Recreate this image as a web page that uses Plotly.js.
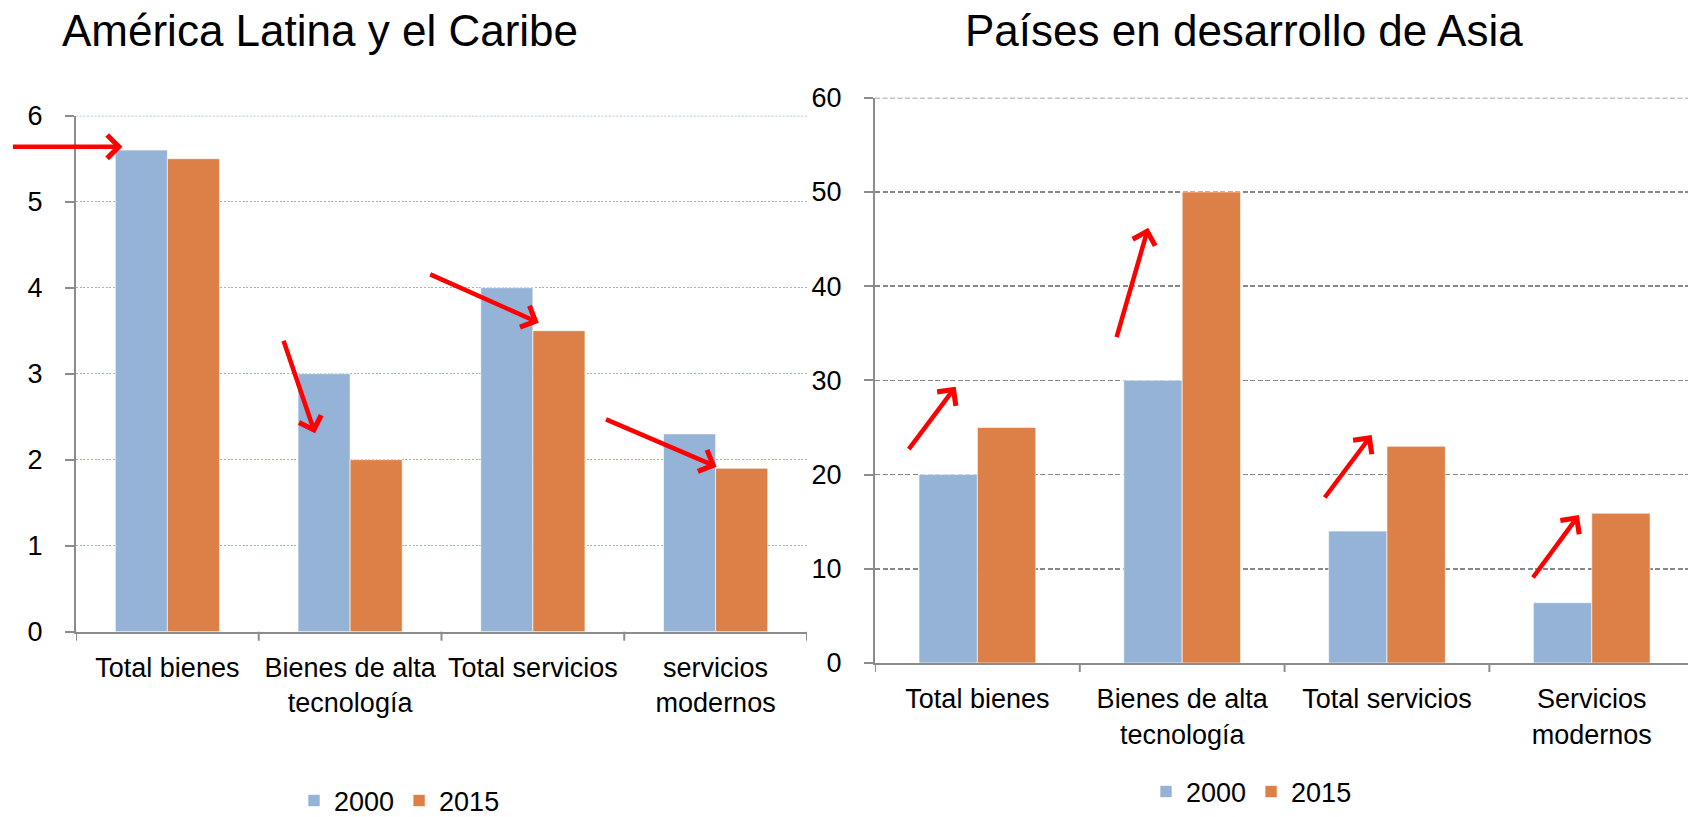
<!DOCTYPE html>
<html>
<head>
<meta charset="utf-8">
<script src="https://cdn.plot.ly/plotly-3.0.1.min.js"></script>
<style>html,body{margin:0;padding:0;background:#fff;}#chart{width:1688px;height:817px;}</style>
</head>
<body>
<div id="chart"></div>
<script>
const years = ["2000", "2015"];
const categoriesLeft = ["Total bienes", "Bienes de alta<br>tecnología", "Total servicios", "servicios<br>modernos"];
const categoriesRight = ["Total bienes", "Bienes de alta<br>tecnología", "Total servicios", "Servicios<br>modernos"];
const left2000 = [5.6, 3.0, 4.0, 2.3];
const left2015 = [5.5, 2.0, 3.5, 1.9];
const right2000 = [20, 30, 14, 6.4];
const right2015 = [25, 50, 23, 15.9];
const leftMax = 6;
const rightMax = 60;
const titleLeft = "América Latina y el Caribe";
const titleRight = "Países en desarrollo de Asia";

const FONT = "Liberation Sans, Arial, sans-serif";
const BLUE = "#95B3D7";
const ORANGE = "#DD8047";
const AXIS = "#8C8C8C";
const GRID_L = "#95B3D7", DASH_L = "2px,1.7px";
const GRID_R = "#888888", DASH_R = "5px,2.5px";

const idx = [0, 1, 2, 3];
function bar(y, name, color, xa, ya, lg) {
  return {
    type: "bar", x: idx, y: y, name: name, xaxis: xa, yaxis: ya, legend: lg,
    marker: {color: color, line: {color: "rgba(255,255,255,0.6)", width: 1}},
    hoverinfo: "skip"
  };
}

const data = [
  bar(left2000, years[0], BLUE, "x", "y", "legend"),
  bar(left2015, years[1], ORANGE, "x", "y", "legend"),
  bar(right2000, years[0], BLUE, "x2", "y2", "legend2"),
  bar(right2015, years[1], ORANGE, "x2", "y2", "legend2")
];

const tickFont = {family: FONT, size: 27, color: "#000"};

function xaxis(domain, anchor, range, labels) {
  return {
    domain: domain, anchor: anchor, range: range, type: "linear",
    tickmode: "array", tickvals: idx, ticktext: labels,
    showgrid: false, zeroline: false,
    showline: true, linecolor: AXIS, linewidth: 2,
    ticks: "", tickfont: tickFont, ticklabelstandoff: 11, fixedrange: true
  };
}
function yaxis(domain, anchor, range, dtick, gcolor, gdash) {
  return {
    domain: domain, anchor: anchor, range: range, dtick: dtick, tick0: 0,
    showgrid: true, gridcolor: gcolor, gridwidth: 1.5, griddash: gdash,
    zeroline: false, showline: true, linecolor: AXIS, linewidth: 2,
    ticks: "outside", ticklen: 9, tickwidth: 2, tickcolor: AXIS,
    tickfont: tickFont, ticklabelstandoff: 17, fixedrange: true
  };
}

const shapes = [
  // top gridlines (at range max, which plotly omits)
  {type: "line", xref: "x domain", yref: "y", x0: 0, x1: 1, y0: leftMax, y1: leftMax,
   line: {color: GRID_L, width: 1.5, dash: DASH_L}, layer: "below"},
  {type: "line", xref: "x2 domain", yref: "y2", x0: 0, x1: 1, y0: rightMax, y1: rightMax,
   line: {color: GRID_R, width: 1.5, dash: DASH_R}, layer: "below"}
];
for (let i = 0; i <= 4; i++) {
  shapes.push({type: "line", xref: "x", yref: "y domain", ysizemode: "pixel", yanchor: 0,
    x0: i - 0.5, x1: i - 0.5, y0: 0, y1: -9, line: {color: AXIS, width: 2}});
}
for (let i = 0; i <= 3; i++) {
  shapes.push({type: "line", xref: "x2", yref: "y2 domain", ysizemode: "pixel", yanchor: 0,
    x0: i - 0.5, x1: i - 0.5, y0: 0, y1: -9, line: {color: AXIS, width: 2}});
}

function arrow(xref, yref, x, y, ax, ay) {
  return {xref: xref, yref: yref, x: x, y: y, ax: ax, ay: ay, text: "",
    showarrow: true, arrowhead: 4, arrowsize: 1, arrowwidth: 4.5, arrowcolor: "#FF0000", standoff: 0};
}

const annotations = [
  {xref: "paper", yref: "paper", x: 320 / 1688, y: 1 - 31 / 817, xanchor: "center", yanchor: "middle",
   text: titleLeft, showarrow: false, font: {family: FONT, size: 44, color: "#000"}},
  {xref: "paper", yref: "paper", x: 1244 / 1688, y: 1 - 31 / 817, xanchor: "center", yanchor: "middle",
   text: titleRight, showarrow: false, font: {family: FONT, size: 44, color: "#000"}},
  arrow("x", "y", -0.246, 5.64, -111, 0),
  arrow("x", "y", 0.808, 2.307, -32, -94),
  arrow("x", "y", 2.032, 3.593, -110, -49),
  arrow("x", "y", 3.005, 1.919, -112, -48),
  arrow("x2", "y2", -0.106, 29.33, -48, 64),
  arrow("x2", "y2", 0.834, 46.2, -32, 111),
  arrow("x2", "y2", 1.925, 24.2, -48, 64),
  arrow("x2", "y2", 2.937, 15.71, -47, 64)
];

const layout = {
  width: 1688, height: 817,
  margin: {l: 0, r: 0, t: 0, b: 0, pad: 0, autoexpand: false},
  paper_bgcolor: "#fff", plot_bgcolor: "#fff",
  barmode: "group", bargap: 0.43, bargroupgap: 0,
  font: {family: FONT, color: "#000"},
  xaxis: xaxis([76 / 1688, 807 / 1688], "y", [-0.5, 3.5], categoriesLeft),
  yaxis: yaxis([1 - 631.7 / 817, 1 - 115.7 / 817], "x", [0, leftMax], 1, GRID_L, DASH_L),
  xaxis2: xaxis([875 / 1688, 1], "y2", [-0.5, 3.47], categoriesRight),
  yaxis2: yaxis([1 - 663 / 817, 1 - 97.7 / 817], "x2", [0, rightMax], 10, GRID_R, DASH_R),
  legend: {orientation: "h", x: 294 / 1688, y: 1 - 801 / 817, xanchor: "left", yanchor: "middle",
    font: {family: FONT, size: 27, color: "#000"}, bgcolor: "rgba(0,0,0,0)", itemclick: false},
  legend2: {orientation: "h", x: 1146 / 1688, y: 1 - 792 / 817, xanchor: "left", yanchor: "middle",
    font: {family: FONT, size: 27, color: "#000"}, bgcolor: "rgba(0,0,0,0)", itemclick: false},
  showlegend: true,
  shapes: shapes,
  annotations: annotations
};

Plotly.newPlot("chart", data, layout, {displayModeBar: false, staticPlot: true});
</script>
</body>
</html>
